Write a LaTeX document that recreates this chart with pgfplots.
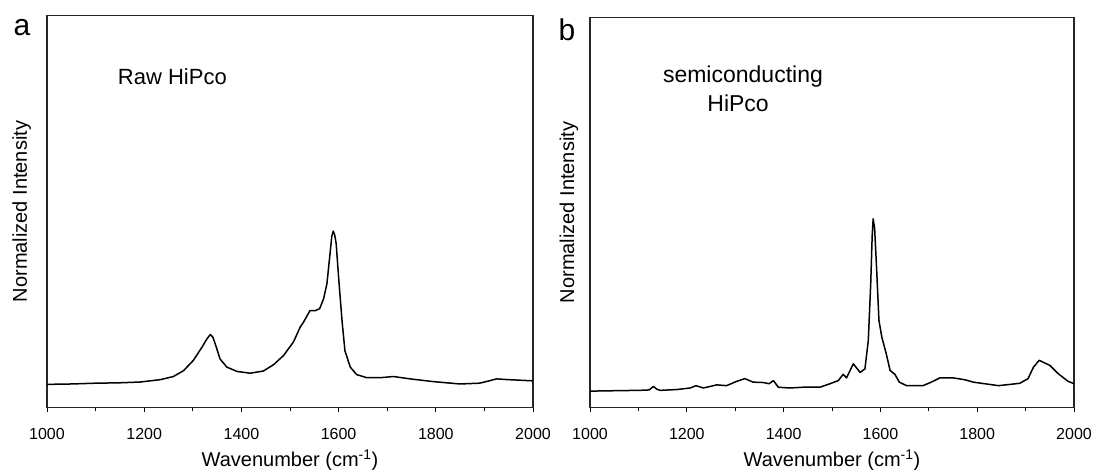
\documentclass[border=0pt]{standalone}
\usepackage{fontspec}
\setmainfont{Liberation Sans}
\usepackage{pgfplots}
\pgfplotsset{compat=1.18}
\usepackage{pgfplotstable}

\pgfplotstableread{
x y
1000 0.059
1050 0.060
1100 0.062
1150 0.063
1192 0.065
1233 0.071
1260 0.079
1281 0.094
1301 0.120
1319 0.154
1329 0.175
1336 0.186
1341 0.180
1346 0.163
1356 0.124
1370 0.103
1391 0.092
1418 0.0875
1445 0.093
1466 0.109
1487 0.133
1507 0.167
1521 0.205
1528 0.218
1541 0.247
1552 0.247
1561 0.252
1569 0.277
1576 0.316
1583 0.400
1586 0.437
1589 0.450
1592 0.440
1595 0.418
1600 0.332
1607 0.222
1613 0.145
1624 0.103
1637 0.084
1658 0.076
1685 0.076
1713 0.079
1747 0.073
1795 0.066
1850 0.060
1890 0.062
1910 0.068
1925 0.073
1950 0.071
2000 0.068
}\rawdata

\pgfplotstableread{
x y
1000 0.042
1050 0.043
1103 0.044
1122 0.045
1131 0.054
1138 0.047
1145 0.044
1179 0.046
1207 0.050
1219 0.056
1234 0.050
1262 0.058
1282 0.056
1303 0.067
1320 0.074
1337 0.065
1358 0.064
1370 0.061
1379 0.069
1389 0.052
1413 0.050
1441 0.052
1475 0.052
1496 0.061
1513 0.069
1523 0.085
1530 0.076
1544 0.112
1558 0.090
1568 0.099
1575 0.172
1580 0.318
1583 0.440
1585 0.484
1588 0.460
1592 0.360
1597 0.223
1603 0.180
1612 0.138
1620 0.095
1630 0.085
1639 0.065
1654 0.056
1688 0.056
1705 0.065
1723 0.076
1750 0.076
1775 0.071
1792 0.065
1844 0.056
1888 0.062
1905 0.074
1916 0.103
1928 0.121
1950 0.108
1968 0.086
1988 0.067
2000 0.061
}\semidata

\pgfplotsset{
  ramanstyle/.style={
    scale only axis,
    xmin=1000, xmax=2000, ymin=0, ymax=1,
    xtick={1000,1200,...,2000},
    minor xtick={1100,1300,...,1900},
    ytick=\empty,
    xtick pos=bottom,
    tick align=outside,
    major tick length=5pt,
    minor tick length=4pt,
    every tick/.style={black, line width=0.9pt},
    axis line style={line width=1.1pt, black!85},
    /pgf/number format/assume math mode=true,
    /pgf/number format/1000 sep={},
    xticklabel style={font=\fontsize{16}{19}\selectfont, anchor=base, yshift=-27.5pt},
    xlabel={Wavenumber (cm\textsuperscript{-1})},
    xlabel style={font=\fontsize{20}{24}\selectfont, at={(axis description cs:0.5,0)}, anchor=base, yshift=-59.5pt},
    ylabel={Normalized Intensity},
    ylabel style={font=\fontsize{20}{24}\selectfont, anchor=base},
    clip mode=individual,
  }
}

\begin{document}
\begin{tikzpicture}
\path[use as bounding box] (0pt,0pt) rectangle (1094pt,470pt);

\begin{axis}[ramanstyle,
  at={(47pt,62.5pt)}, anchor=south west,
  width=486pt, height=392pt,
  ylabel style={at={(axis description cs:-0.0412,0.5)}},
]
\addplot[black, line width=1.5pt, line join=round] table[x=x,y=y] {\rawdata};
\node[anchor=base, font=\fontsize{22}{26}\selectfont] at (axis description cs:0.258,0.824) {Raw HiPco};
\node[anchor=base, font=\fontsize{30}{34}\selectfont] at (axis description cs:-0.0514,0.950) {a};
\end{axis}

\begin{axis}[ramanstyle,
  at={(590pt,62.5pt)}, anchor=south west,
  width=484pt, height=390pt,
  ylabel style={at={(axis description cs:-0.033,0.5)}},
]
\addplot[black, line width=1.5pt, line join=round] table[x=x,y=y] {\semidata};
\node[anchor=base, font=\fontsize{23}{27}\selectfont] at (axis description cs:0.316,0.833) {semiconducting};
\node[anchor=base, font=\fontsize{23}{27}\selectfont] at (axis description cs:0.306,0.760) {HiPco};
\node[anchor=base, font=\fontsize{30}{34}\selectfont] at (axis description cs:-0.0475,0.942) {b};
\end{axis}
\end{tikzpicture}
\end{document}
